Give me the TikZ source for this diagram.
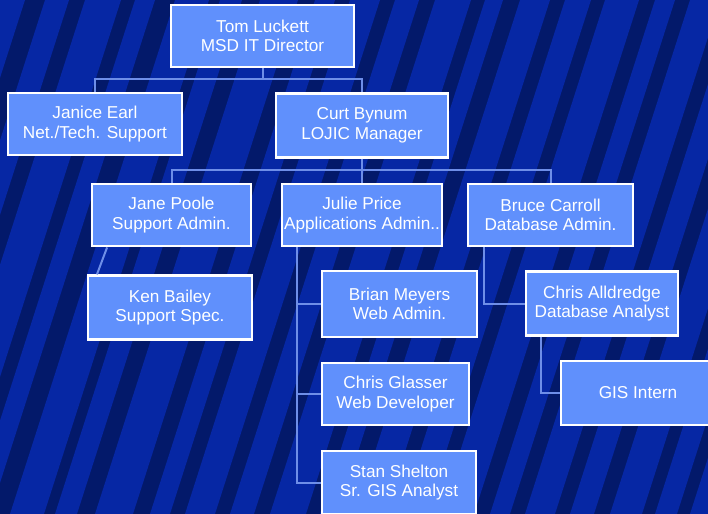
\documentclass[tikz,border=0pt]{standalone}
\usepackage{fontspec}
\setmainfont{Liberation Sans}
\definecolor{bgdark}{HTML}{03196A}
\definecolor{bgstripe}{HTML}{0627A4}
\definecolor{boxfill}{HTML}{6090FC}
\definecolor{linkblue}{HTML}{6E8EE8}
\tikzset{
  person/.style={draw=white, line width=1.6pt, fill=boxfill, text=white,
    align=center, inner sep=0pt, font=\fontsize{12.9}{14.6}\selectfont},
  link/.style={draw=linkblue, line width=1.5pt}
}
\begin{document}
\begin{tikzpicture}[x=0.75pt,y=-0.75pt]
        % background and the slanted streaks
        \useasboundingbox (0,0) rectangle (708,514);
        \clip (0,0) rectangle (708,514);
        \fill[bgdark] (0,0) rectangle (708,514);
        \foreach \sx/\sw in {-170/30,-120/24,-80/36,-30/20,10/34,55/22,95/38,
                             150/20,185/30,230/24,270/36,320/18,355/30,400/26,
                             440/34,490/20,525/30,570/24,610/32,655/22,690/30}
            \fill[bgstripe] (\sx,514) -- ++(\sw,0) -- ++(165,-514) -- ++(-\sw,0) -- cycle;
        % director level
        \node[person, minimum width=137pt, minimum height=47pt] (tom)    at (262.5,36) {Tom Luckett\\MSD IT Director};
        \node[person, minimum width=130pt, minimum height=47pt] (janice) at (95,124)   {Janice Earl\\Net./Tech. Support};
        \node[person, minimum width=129pt, minimum height=48pt] (curt)   at (362,125.5)  {Curt Bynum\\LOJIC Manager};
        % admin level
        \node[person, minimum width=119pt, minimum height=47pt] (jane)   at (171.5,215) {Jane Poole\\Support Admin.};
        \node[person, minimum width=120pt, minimum height=47pt] (julie)  at (362,215)   {Julie Price\\Applications Admin..};
        \node[person, minimum width=124pt, minimum height=47pt] (bruce)  at (550.5,215) {Bruce Carroll\\Database Admin.};
        % staff
        \node[person, minimum width=123pt, minimum height=48pt] (ken)       at (170,307.5)   {Ken Bailey\\Support Spec.};
        \node[person, minimum width=116pt, minimum height=49pt] (brian)     at (399.5,304) {Brian Meyers\\Web Admin.};
        \node[person, minimum width=110pt, minimum height=47pt] (glasser)   at (395.5,394) {Chris Glasser\\Web Developer};
        \node[person, minimum width=115pt, minimum height=47pt] (stan)      at (399,482.5)   {Stan Shelton\\Sr. GIS Analyst};
        \node[person, minimum width=114pt, minimum height=48pt] (alldredge) at (602,303.5)   {Chris Alldredge\\Database Analyst};
        \node[person, minimum width=115pt, minimum height=48pt] (intern)    at (638,393)   {GIS Intern};
        % connectors
        \coordinate (topbus)   at (262.5,79);
        \coordinate (lojicbus) at (362,170);
        \draw[link] (tom.south) -- (topbus) -| (janice.north);
        \draw[link] (topbus) -| (curt.north);
        \draw[link] (curt.south) -- (lojicbus) -| (jane.north);
        \draw[link] (lojicbus) -| (bruce.north);
        \draw[link] (lojicbus) -- (julie.north);
        \draw[link] ([xshift=12pt]jane.south west) -- ([xshift=7.5pt]ken.north west);
        \draw[link] ([xshift=12pt]julie.south west) |- (brian.west);
        \draw[link] ([xshift=12pt]julie.south west) |- (glasser.west);
        \draw[link] ([xshift=12pt]julie.south west) |- (stan.west);
        \draw[link] ([xshift=12.75pt]bruce.south west) |- (alldredge.west);
        \draw[link] ([xshift=12pt]alldredge.south west) |- (intern.west);
    \end{tikzpicture}
\end{document}
